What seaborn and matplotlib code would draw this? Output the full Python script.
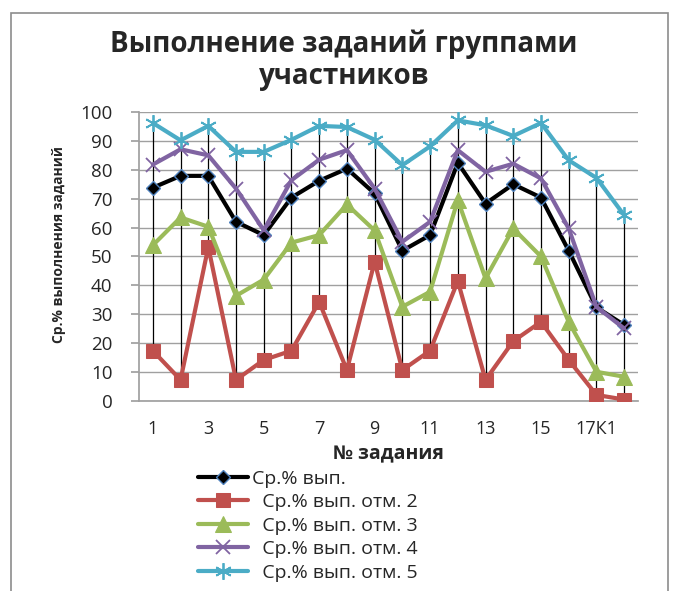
import numpy as np
import pandas as pd
import seaborn as sns
from matplotlib import pyplot as plt
from matplotlib.patches import Rectangle

# номера заданий
tasks = [str(i) for i in range(1, 17)] + ['17К1', '17К2']

avg_all = [73.8, 77.9, 77.9, 62.0, 57.4, 70.4, 76.2, 80.4, 71.8, 52.0, 57.4, 82.4, 68.3, 75.0, 70.4, 52.0, 32.4, 26.3]
avg_2 = [17.4, 7.3, 53.3, 7.3, 14.2, 17.4, 34.3, 10.7, 48.2, 10.7, 17.4, 41.5, 7.3, 20.7, 27.4, 14.2, 2.1, 0.5]
avg_3 = [53.9, 63.5, 60.3, 36.4, 42.0, 54.8, 57.4, 68.0, 59.0, 32.6, 37.8, 69.5, 42.4, 59.7, 50.0, 27.4, 10.1, 8.4]
avg_4 = [81.8, 87.1, 85.0, 73.5, 59.1, 76.4, 83.5, 86.8, 73.5, 55.1, 62.0, 86.8, 79.3, 82.1, 77.0, 59.7, 32.6, 25.1]
avg_5 = [96.2, 90.2, 95.2, 86.2, 86.2, 90.4, 95.2, 94.8, 90.4, 81.6, 88.1, 97.1, 95.4, 91.7, 96.2, 83.3, 77.2, 64.3]

labels = ['Ср.% вып.', '  Ср.% вып. отм. 2', '  Ср.% вып. отм. 3',
          '  Ср.% вып. отм. 4', '  Ср.% вып. отм. 5']

df = pd.DataFrame({'task': tasks, 'all': avg_all, 'o2': avg_2, 'o3': avg_3,
                   'o4': avg_4, 'o5': avg_5})

sns.set_theme(style='white')
plt.rcParams['font.family'] = ['Open Sans', 'DejaVu Sans']

fig = plt.figure(figsize=(6.73, 5.91), dpi=100)
ax = fig.add_axes([0.2065, 0.3215, 0.7415, 0.489])

# рамка вокруг диаграммы
fig.patches.append(Rectangle((0.0163, -0.01), 0.977, 0.988, transform=fig.transFigure,
                             fill=False, edgecolor='#8c8c8c', linewidth=1.2))

# линии от минимума до максимума
vals = df[['all', 'o2', 'o3', 'o4', 'o5']]
ax.vlines(np.arange(len(tasks)), vals.min(axis=1), vals.max(axis=1),
          color='black', linewidth=0.9, zorder=2)

styles = [
    ('all', 'black', 'D', dict(markersize=7, markeredgecolor='#4F81BD', markerfacecolor='black', markeredgewidth=1)),
    ('o2', '#C0504D', 's', dict(markersize=10, markeredgecolor='#C0504D', markerfacecolor='#C0504D')),
    ('o3', '#9BBB59', '^', dict(markersize=11, markeredgecolor='#9BBB59', markerfacecolor='#9BBB59')),
    ('o4', '#8064A2', 'x', dict(markersize=10, markeredgecolor='#8064A2', markeredgewidth=1.3)),
    ('o5', '#4BACC6', (6, 2, 0), dict(markersize=12, markeredgecolor='#4BACC6', markeredgewidth=1.3)),
]
for (col, color, marker, kw), lab in zip(styles, labels):
    sns.lineplot(x='task', y=col, data=df, ax=ax, color=color, linewidth=3,
                 marker=marker, label=lab, zorder=3, **kw)

ax.set_ylim(0, 100)
ax.set_yticks(range(0, 101, 10))
ax.set_xlim(-0.5, len(tasks) - 0.5)
ax.set_xticks(range(0, len(tasks), 2))
ax.set_xticklabels(tasks[::2])
ax.yaxis.grid(True, color='#a0a0a0', linewidth=1)
ax.xaxis.grid(False)
for s in ['top', 'right']:
    ax.spines[s].set_visible(False)
ax.spines['left'].set_color('#a0a0a0')
ax.spines['bottom'].set_color('#a0a0a0')
ax.tick_params(axis='y', labelsize=13.5, left=True, length=6, color='#a0a0a0', pad=13)
ax.tick_params(axis='x', labelsize=13, pad=8)

ax.set_xlabel('№ задания', fontsize=14, fontweight='bold', labelpad=4)
ax.set_ylabel('Ср.% выполнения заданий', fontsize=10, fontweight='bold')
ax.yaxis.set_label_coords(-0.146, 0.543)

fig.text(0.511, 0.898, 'Выполнение заданий группами\nучастников', ha='center', va='center',
         fontsize=20, fontweight='bold', linespacing=1.1)

ax.legend(loc='upper left', bbox_to_anchor=(0.294, 0.205), bbox_transform=fig.transFigure,
          frameon=False, fontsize=14, handlelength=2.6, handletextpad=0.2,
          labelspacing=0.28, borderaxespad=0, borderpad=0)

plt.savefig('out.png', dpi=100)
